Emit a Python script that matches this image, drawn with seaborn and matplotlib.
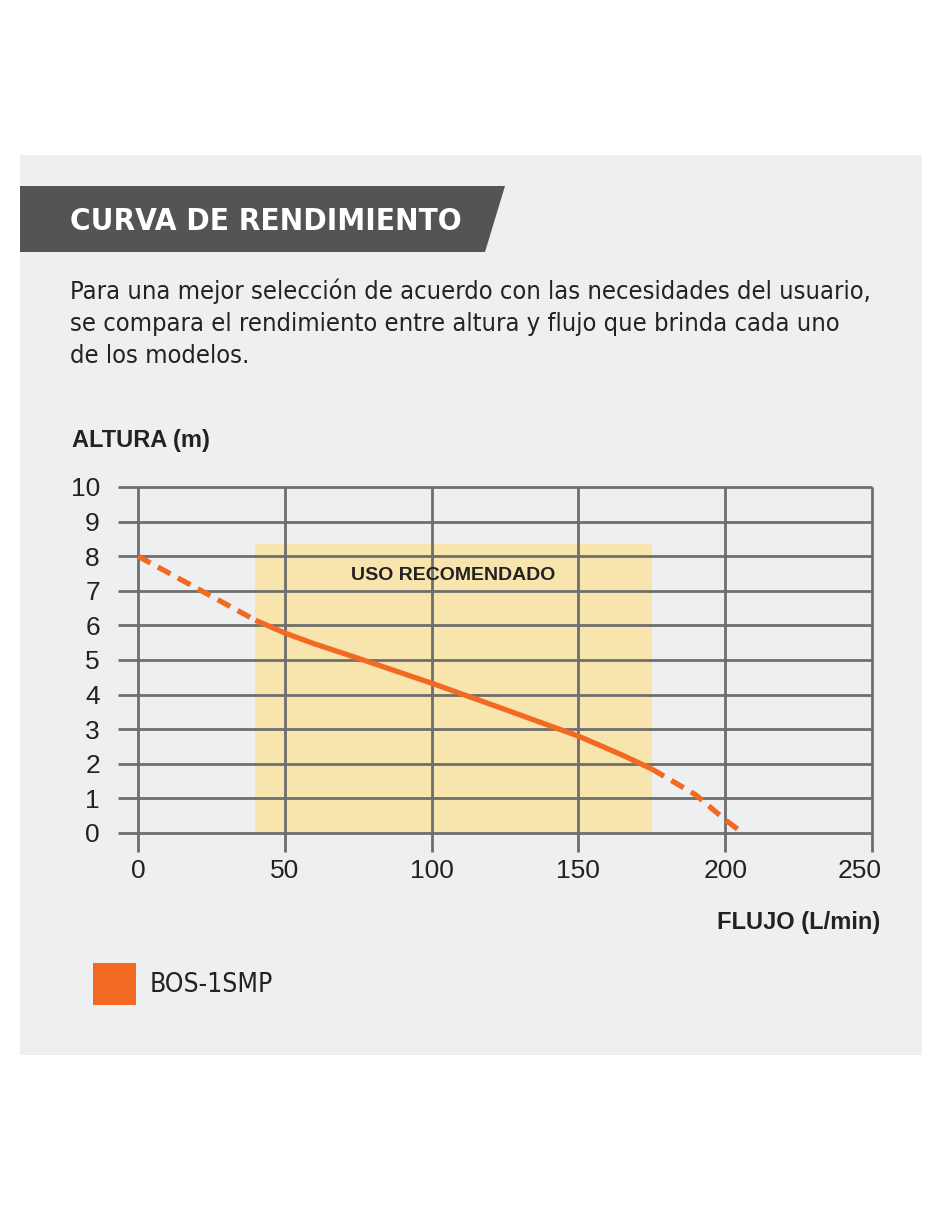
import matplotlib
matplotlib.use("Agg")
import matplotlib.pyplot as plt
import matplotlib.transforms as mtransforms
import seaborn as sns
import pandas as pd
from matplotlib.patches import Rectangle, Polygon

# ---------------- data ----------------
flow_low = [0, 40]
head_low = [8.0, 6.15]
flow_mid = [40, 50, 60, 75, 100, 125, 150, 165, 175]
head_mid = [6.15, 5.78, 5.47, 5.05, 4.33, 3.57, 2.8, 2.25, 1.85]
flow_high = [175, 190, 200, 206]
head_high = [1.85, 1.1, 0.38, 0.0]
zone_flow = [40, 175]
zone_top = 8.35
x_ticks = [0, 50, 100, 150, 200, 250]
y_ticks = [0, 1, 2, 3, 4, 5, 6, 7, 8, 9, 10]
series_name = "BOS-1SMP"
title = "CURVA DE RENDIMIENTO"
body = ["Para una mejor selección de acuerdo con las necesidades del usuario,",
        "se compara el rendimiento entre altura y flujo que brinda cada uno",
        "de los modelos."]
zone_label = "USO RECOMENDADO"
y_label = "ALTURA (m)"
x_label = "FLUJO (L/min)"

sns.set_theme(style="white")
plt.rcParams['font.family'] = ['Liberation Sans', 'DejaVu Sans']
COND = ['DejaVu Sans']

W, H = 940, 1215
fig = plt.figure(figsize=(W / 100, H / 100), dpi=100)
fig.patch.set_facecolor("white")

def fx(x):
    return x / W

def fy(y):
    return 1 - y / H

ORANGE = "#F26A22"
GRID = "#6E6E6E"
TXT = "#222222"

# panel
fig.patches.append(Rectangle((fx(20), fy(1055)), fx(922) - fx(20), fy(155) - fy(1055),
                             transform=fig.transFigure, facecolor="#EEEFF1", edgecolor="none", zorder=-3))
# banner
fig.patches.append(Polygon([(fx(20), fy(186)), (fx(505), fy(186)), (fx(485), fy(252)), (fx(20), fy(252))],
                           closed=True, transform=fig.transFigure, facecolor="#545454",
                           edgecolor="none", zorder=-2))
fig.text(fx(70), fy(221), title, color="white", fontsize=22.5, fontweight="bold",
         family=COND, va="center", ha="left", fontstretch="condensed")
for i, line in enumerate(body):
    fig.text(fx(70), fy(291 + 32.5 * i), line, color=TXT, fontsize=18.3,
             family=COND, fontstretch="condensed", va="center", ha="left")

# axes
x0, x1 = -6.8, 250
y0, y1 = -0.55, 10
ax = fig.add_axes([fx(118), fy(852), fx(872) - fx(118), fy(487) - fy(852)])
ax.set_zorder(1)
ax.set_facecolor("none")
ax.set_xlim(x0, x1)
ax.set_ylim(y0, y1)
for s in ax.spines.values():
    s.set_visible(False)

ax.fill_between(zone_flow, 0, zone_top, color="#F8E5AE", linewidth=0, zorder=1)
ax.hlines(y_ticks, x0, x1, color=GRID, linewidth=2, zorder=2, clip_on=False)
ax.vlines(x_ticks, y0, y1, color=GRID, linewidth=2, zorder=2, clip_on=False)

df_low = pd.DataFrame({"flow": flow_low, "head": head_low})
df_mid = pd.DataFrame({"flow": flow_mid, "head": head_mid})
df_high = pd.DataFrame({"flow": flow_high, "head": head_high})
kw = dict(x="flow", y="head", ax=ax, color=ORANGE, linewidth=3.8, zorder=4, legend=False)
sns.lineplot(data=df_mid, **kw)
sns.lineplot(data=df_low, linestyle=(0, (2.7, 1.6)), **kw)
sns.lineplot(data=df_high, linestyle=(0, (2.7, 1.6)), **kw)
for ln in ax.lines:
    ln.set_solid_capstyle("butt")
    ln.set_dash_capstyle("butt")
    ln.set_clip_on(False)

ax.text(sum(zone_flow) / 2, 7.43, zone_label, ha="center", va="center",
        fontsize=14, fontweight="bold", color=TXT, zorder=5)

ax.set_xticks(x_ticks)
ax.set_yticks(y_ticks)
ax.set_xticklabels([str(v) for v in x_ticks])
ax.set_yticklabels([str(v) for v in y_ticks])
ax.tick_params(axis="both", length=0, labelsize=19, labelcolor=TXT)
ax.tick_params(axis="y", pad=13)
ax.tick_params(axis="x", pad=5)
ax.set_xlabel("")
ax.set_ylabel("")
last = ax.get_xticklabels()[-1]
last.set_transform(last.get_transform() + mtransforms.ScaledTranslation(-0.12, 0, fig.dpi_scale_trans))

fig.text(fx(72), fy(440), y_label, fontsize=17, fontweight="bold", color=TXT,
         va="center", ha="left")
fig.text(fx(880), fy(922), x_label, fontsize=17, fontweight="bold", color=TXT,
         va="center", ha="right")

# legend
fig.patches.append(Rectangle((fx(93), fy(1005)), fx(136) - fx(93), fy(963) - fy(1005),
                             transform=fig.transFigure, facecolor=ORANGE, edgecolor="none", zorder=-1))
fig.text(fx(150), fy(985), series_name, fontsize=19, color=TXT,
         family=COND, fontstretch="condensed", va="center", ha="left")

fig.savefig("out.png", dpi=100)
